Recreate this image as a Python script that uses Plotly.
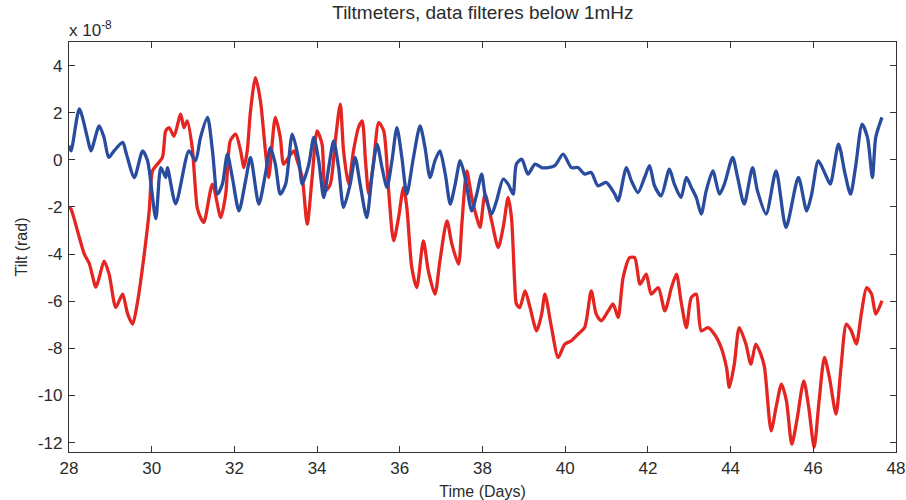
import plotly.graph_objects as go

# Tilt values in units of 1e-8 rad
red_days = [28.0, 28.05, 28.25, 28.37, 28.49, 28.65, 28.73, 28.85, 28.97, 29.13, 29.25, 29.3, 29.42, 29.54, 29.66,
            29.82, 29.94, 30.02, 30.14, 30.26, 30.34, 30.42, 30.54, 30.7, 30.78, 30.86, 30.98, 31.1, 31.18, 31.26,
            31.47, 31.67, 31.79, 31.9, 32.03, 32.15, 32.23, 32.31, 32.39, 32.51, 32.63, 32.75, 32.83, 32.99, 33.11,
            33.19, 33.31, 33.44, 33.52, 33.64, 33.76, 33.88, 34.0, 34.12, 34.2, 34.32, 34.44, 34.56, 34.64, 34.76,
            34.88, 35.0, 35.09, 35.17, 35.25, 35.37, 35.49, 35.61, 35.73, 35.85, 35.97, 36.09, 36.17, 36.29, 36.41,
            36.57, 36.69, 36.85, 36.97, 37.14, 37.26, 37.42, 37.5, 37.62, 37.74, 37.86, 37.94, 38.06, 38.22, 38.38,
            38.5, 38.62, 38.7, 38.78, 38.82, 38.9, 39.03, 39.15, 39.31, 39.43, 39.51, 39.67, 39.83, 39.99, 40.15,
            40.31, 40.47, 40.63, 40.75, 40.87, 41.04, 41.16, 41.28, 41.4, 41.56, 41.68, 41.81, 41.96, 42.08, 42.25,
            42.41, 42.57, 42.69, 42.8, 42.93, 43.05, 43.17, 43.29, 43.45, 43.61, 43.77, 43.9, 43.97, 44.09, 44.21,
            44.37, 44.49, 44.61, 44.73, 44.82, 44.98, 45.1, 45.23, 45.35, 45.48, 45.6, 45.77, 45.89, 46.02, 46.14,
            46.27, 46.39, 46.55, 46.67, 46.8, 46.92, 47.04, 47.16, 47.29, 47.41, 47.51, 47.66]
red_tilt = [-2.0, -2.1, -3.3, -4.0, -4.4, -5.4, -5.0, -4.3, -4.85, -6.27, -5.84, -5.7, -6.55, -6.97, -6.0,
            -4.0, -2.17, -0.47, -0.18, 0.1, 1.23, 1.37, 1.0, 1.94, 1.37, 1.65, 0.52, -2.02, -2.45, -2.66,
            -1.03, -2.45, -1.46, 0.8, 1.09, 0.38, -0.33, 0.38, 2.08, 3.49, 2.5, 0.38, -0.75, 1.8, 0.95,
            -0.18, 0.1, 0.38, -0.04, -0.75, -2.73, -0.75, 1.23, 0.67, -1.32, -1.03, 0.8, 2.36, 0.38, -1.03,
            0.38, 1.37, 1.65, -0.04, -1.46, -0.04, 1.58, 1.23, -1.32, -3.44, -2.45, -1.17, -2.02, -4.57, -5.42,
            -3.44, -4.71, -5.7, -4.29, -2.59, -3.58, -4.43, -2.73, -0.47, -1.6, -2.45, -2.87, -1.46, -2.59, -3.72,
            -2.87, -1.6, -2.45, -5.28, -6.12, -6.27, -5.56, -6.27, -7.26, -6.55, -5.7, -7.12, -8.39, -7.82, -7.68,
            -7.4, -7.12, -5.56, -6.55, -6.83, -6.41, -6.12, -6.69, -5.0, -4.15, -4.15, -5.28, -4.85, -5.7, -5.42,
            -6.41, -5.42, -4.85, -5.98, -7.12, -5.84, -5.7, -7.26, -7.12, -7.4, -7.96, -8.81, -9.66, -8.67, -7.12,
            -7.82, -8.67, -7.82, -8.25, -8.81, -11.5, -10.5, -9.52, -10.23, -12.07, -11.08, -9.38, -10.51, -12.2, -10.23,
            -8.39, -9.24, -10.79, -8.81, -6.97, -7.26, -7.82, -6.55, -5.42, -5.7, -6.55, -5.98]

blue_days = [28.0, 28.05, 28.25, 28.45, 28.53, 28.73, 28.85, 28.96, 29.09, 29.3, 29.38, 29.58, 29.78, 29.9, 30.1,
             30.22, 30.34, 30.38, 30.58, 30.9, 31.06, 31.18, 31.35, 31.47, 31.59, 31.71, 31.83, 31.95, 32.11, 32.27,
             32.39, 32.59, 32.75, 32.87, 32.99, 33.11, 33.24, 33.4, 33.56, 33.64, 33.8, 33.92, 34.04, 34.16, 34.28,
             34.4, 34.52, 34.64, 34.8, 34.92, 35.04, 35.2, 35.33, 35.45, 35.57, 35.69, 35.81, 35.93, 36.05, 36.17,
             36.33, 36.49, 36.61, 36.73, 36.85, 36.97, 37.1, 37.22, 37.34, 37.46, 37.58, 37.74, 37.86, 37.98, 38.06,
             38.22, 38.34, 38.5, 38.62, 38.74, 38.82, 38.95, 39.1, 39.27, 39.43, 39.59, 39.75, 39.95, 40.15, 40.31,
             40.47, 40.63, 40.79, 40.99, 41.2, 41.28, 41.48, 41.6, 41.76, 41.92, 42.04, 42.16, 42.32, 42.52, 42.64,
             42.8, 42.93, 43.05, 43.17, 43.29, 43.41, 43.57, 43.73, 43.85, 44.05, 44.17, 44.33, 44.53, 44.65, 44.86,
             45.1, 45.34, 45.64, 45.84, 45.96, 46.12, 46.29, 46.41, 46.61, 46.77, 46.9, 47.02, 47.18, 47.31, 47.43,
             47.51, 47.66]
blue_tilt = [0.6, 0.38, 2.16, 0.9, 0.38, 1.44, 0.93, 0.1, 0.38, 0.74, 0.3, -0.75, 0.38, -0.04, -2.5,
             -0.33, -0.75, -0.33, -1.87, 0.38, -0.04, 0.95, 1.8, 0.38, -1.46, -1.03, 0.24, -0.75, -2.17, -0.89,
             0.1, -1.88, -0.61, 0.52, -0.18, -1.46, -1.03, 1.09, -0.04, -1.03, -0.18, 0.95, -0.04, -1.6, -0.33,
             0.8, -0.33, -2.02, -1.03, 0.1, -1.03, -2.45, -0.61, 0.67, -0.33, -1.17, -0.04, 1.37, 0.1, -1.46,
             0.1, 1.44, 0.52, -0.75, -0.04, 0.38, -0.61, -1.88, -1.03, -0.04, -0.75, -2.17, -1.46, -0.61, -1.46,
             -2.3, -1.74, -0.82, -1.03, -1.46, -0.18, 0.03, -0.61, -0.18, -0.33, -0.33, -0.25, 0.24, -0.33, -0.33,
             -0.61, -0.54, -1.1, -0.96, -1.46, -1.74, -0.33, -0.89, -1.39, -0.75, -0.25, -1.1, -1.53, -0.4, -1.03,
             -1.6, -0.75, -1.17, -1.6, -2.3, -1.32, -0.47, -1.46, -1.03, 0.1, -0.75, -1.88, -0.33, -1.32, -2.3,
             -0.47, -2.87, -0.75, -2.17, -1.46, -0.04, -0.61, -1.03, 0.67, -0.61, -1.46, -0.33, 1.51, 0.95, -0.75,
             0.95, 1.8]

x_ticks = [28, 30, 32, 34, 36, 38, 40, 42, 44, 46, 48]
y_ticks = [-12, -10, -8, -6, -4, -2, 0, 2, 4]
y_tick_labels = ["-12", "-10", "-8", "-6", "-4", "-2", "0", "2", "4"]

FONT = "Liberation Sans"
TXT = "#2b2b2b"

fig = go.Figure()
fig.add_trace(go.Scatter(x=red_days, y=red_tilt, mode="lines",
                         line=dict(color="#e52521", width=3.3, shape="spline", smoothing=0.7),
                         showlegend=False))
fig.add_trace(go.Scatter(x=blue_days, y=blue_tilt, mode="lines",
                         line=dict(color="#2a4c9f", width=3.3, shape="spline", smoothing=0.7),
                         showlegend=False))

axis_common = dict(showline=True, linecolor="#333333", linewidth=1.2, mirror="ticks",
                   ticks="inside", ticklen=6, tickcolor="#333333", showgrid=False, zeroline=False,
                   tickfont=dict(family=FONT, size=17, color=TXT))

fig.update_layout(
    width=906, height=500,
    margin=dict(l=69, r=10, t=42, b=48, autoexpand=False),
    paper_bgcolor="white", plot_bgcolor="white",
    title=dict(text="Tiltmeters, data filteres below 1mHz", x=0.533, xanchor="center",
               y=0.975, yanchor="middle", font=dict(family=FONT, size=19, color=TXT)),
    xaxis=dict(range=[28, 48], tickvals=x_ticks, automargin=False,
               title=dict(text="Time (Days)", font=dict(family=FONT, size=16, color=TXT), standoff=16),
               **axis_common),
    yaxis=dict(range=[-12.4, 5], tickvals=y_ticks, ticktext=y_tick_labels, ticklabelstandoff=2,
               automargin=False,
               title=dict(text="Tilt (rad)", font=dict(family=FONT, size=16, color=TXT), standoff=6),
               **axis_common),
    annotations=[dict(text="x 10<sup>-8</sup>", xref="paper", yref="paper", x=-0.002, y=1.0,
                      xanchor="left", yanchor="bottom", showarrow=False,
                      font=dict(family=FONT, size=17, color=TXT))],
)

# remove the browser's default body margin so the 906x500 figure fills the window exactly
fig.write_html("out.html", config={"displayModeBar": False},
               post_script="document.body.style.margin='0';document.body.style.overflow='hidden';")
